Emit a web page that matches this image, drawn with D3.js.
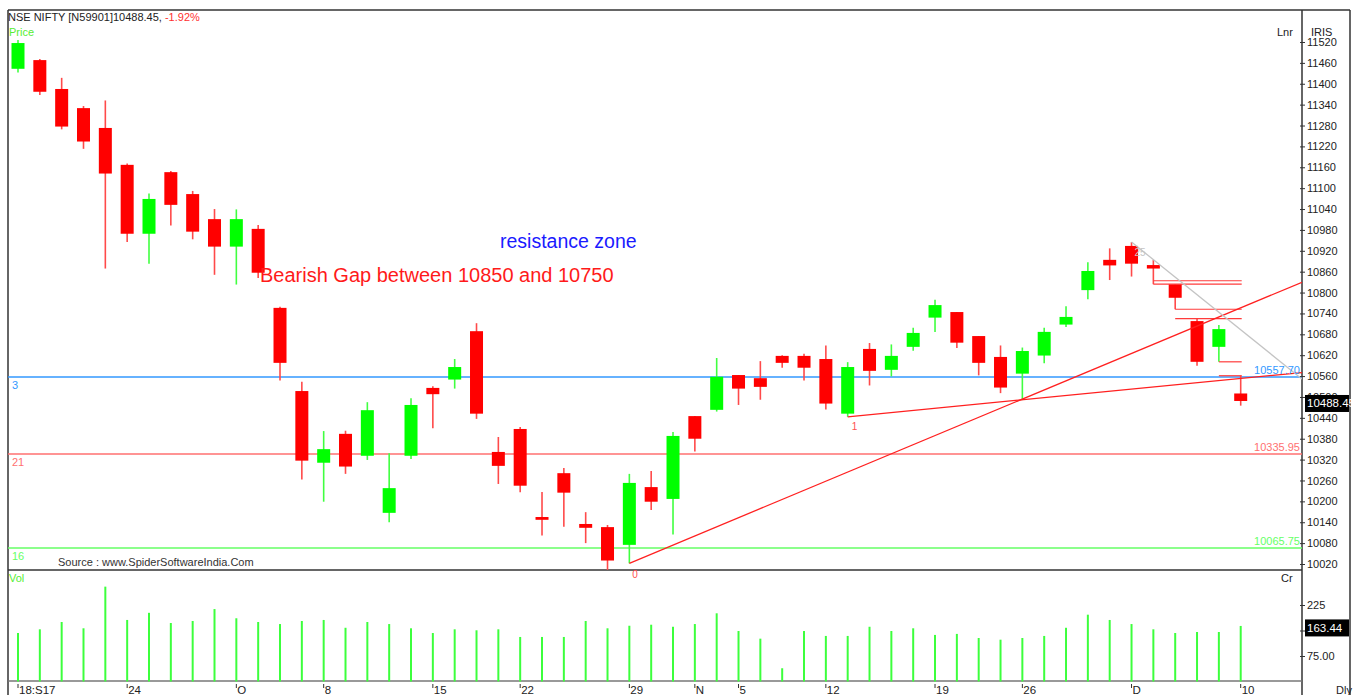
<!DOCTYPE html>
<html>
<head>
<meta charset="utf-8">
<script src="https://cdn.jsdelivr.net/npm/d3@7"></script>
<style>
  body { margin: 0; background: #fff; }
  svg { display: block; font-family: "Liberation Sans", Arial, sans-serif; }
</style>
</head>
<body>
<div class="chart"></div>
<script>
const width = 1355
const height = 695

// daily candles, NSE NIFTY
const opens = [11443, 11468, 11385, 11330, 11273, 11167, 10969, 11146, 11083, 11011, 10932, 10983,
    10756, 10517, 10311, 10394, 10331, 10167, 10331, 10526, 10550, 10689, 10342, 10408, 10155, 10281,
    10135, 10126, 10075, 10241, 10207, 10445, 10463, 10563, 10554, 10618, 10618, 10609, 10452, 10638,
    10578, 10644, 10728, 10744, 10675, 10615, 10567, 10619, 10708, 10807, 10894, 10934, 10879, 10824,
    10718, 10644, 10510]
const highs = [11526, 11471, 11417, 11336, 11352, 11171, 11085, 11149, 11092, 11040, 11039, 10994,
    10759, 10544, 10402, 10403, 10485, 10338, 10496, 10531, 10609, 10712, 10385, 10414, 10227, 10296,
    10169, 10132, 10279, 10287, 10399, 10445, 10612, 10563, 10603, 10620, 10624, 10648, 10600, 10655,
    10651, 10699, 10779, 10744, 10675, 10648, 10642, 10699, 10761, 10887, 10927, 10945, 10894, 10824,
    10725, 10707, 10562]
const lows = [11432, 11368, 11269, 11213, 10869, 10945, 10883, 10993, 10953, 10851, 10823, 10842,
    10547, 10263, 10199, 10279, 10319, 10140, 10322, 10410, 10524, 10437, 10250, 10226, 10102, 10127,
    10080, 10003, 10022, 10175, 10105, 10343, 10458, 10477, 10492, 10584, 10547, 10464, 10443, 10533,
    10559, 10633, 10687, 10641, 10562, 10511, 10491, 10597, 10701, 10781, 10836, 10846, 10824, 10752,
    10590, 10601, 10475]
const closes = [11517, 11377, 11277, 11234, 11142, 10969, 11069, 11052, 10975, 10932, 11011, 10857,
    10598, 10317, 10350, 10300, 10462, 10238, 10477, 10508, 10586, 10452, 10302, 10245, 10147, 10225,
    10124, 10030, 10253, 10199, 10388, 10380, 10558, 10524, 10529, 10598, 10584, 10481, 10586, 10575,
    10618, 10684, 10764, 10656, 10598, 10527, 10632, 10687, 10730, 10862, 10878, 10883, 10869, 10785,
    10601, 10695, 10488.45]
const volumes = [142.6, 153.5, 175, 156.5, 279, 181, 202, 172, 178, 213, 186, 175, 169, 178, 181,
    158, 175, 169, 156.5, 142.6, 153.5, 150.6, 153.5, 131, 131, 131, 178, 156.5, 164, 167, 161, 169,
    200.6, 148.5, 126, 39, 148.5, 134, 134, 161, 148.5, 156.5, 137, 140, 128, 123, 128, 134, 158,
    196.5, 181, 169, 153.5, 142.6, 145.6, 145.6, 163.44]

const dateLabels = [[0, "18:S17"], [5, "24"], [10, "O"], [14, "8"], [19, "15"], [23, "22"], [28, "29"],
    [31, "N"], [33, "5"], [37, "12"], [42, "19"], [46, "26"], [51, "D"], [56, "10"]]
const priceTicks = d3.range(10020, 11521, 60)
const volTicks = [75, 150, 225]
const volTickLabels = ["75.00", "", "225"]   // 150 sits under the last-value box

// horizontal levels: value, left tag
const levels = [
    { value: 10557.70, tag: "3", color: "#3399ff" },
    { value: 10335.95, tag: "21", color: "#ff7070" },
    { value: 10065.75, tag: "16", color: "#66ff66" }
]
// gap marks: from candle index, price
const gapLines = [[52, 10834], [52, 10824], [53, 10752], [53, 10725], [55, 10601], [55, 10561]]
// trend lines: two anchors [index, price], extended to the axis
const trendLines = [
    { a: [28, 10022], b: [56, 10756], color: "#ff2020", label: "0" },
    { a: [38, 10443], b: [56, 10553], color: "#ff2020", label: "1" },
    { a: [51, 10945], b: [56, 10693], color: "#c4c4c4", label: "25" }
]

const leftX = 8, axisX = 1302, rightX = 1350
const topY = 10, priceBottom = 570, volBottom = 681

const x = d3.scaleLinear().domain([0, 56]).range([18, 1240.7])
const y = d3.scaleLinear().domain([10020, 11520]).range([564, 42])
const yVol = d3.scaleLinear().domain([0, 225]).range([681.5, 605])

const svg = d3.select(".chart").append("svg")
    .attr("width", width)
    .attr("height", height)

svg.append("defs").append("clipPath").attr("id", "pclip")
    .append("rect").attr("x", leftX).attr("y", topY).attr("width", axisX - leftX).attr("height", priceBottom - topY)

// frame
const frame = svg.append("g").attr("stroke", "#333").attr("fill", "none")
frame.append("line").attr("x1", leftX).attr("x2", rightX).attr("y1", topY).attr("y2", topY).attr("stroke-width", 1.5)
frame.append("line").attr("x1", leftX).attr("x2", leftX).attr("y1", topY).attr("y2", height).attr("stroke-width", 1.5)
frame.append("line").attr("x1", axisX).attr("x2", axisX).attr("y1", topY).attr("y2", height).attr("stroke-width", 1.5)
frame.append("line").attr("x1", rightX).attr("x2", rightX).attr("y1", topY).attr("y2", height).attr("stroke-width", 1.5)
frame.append("line").attr("x1", leftX).attr("x2", axisX).attr("y1", priceBottom).attr("y2", priceBottom).attr("stroke-width", 1.5)
frame.append("line").attr("x1", leftX).attr("x2", axisX).attr("y1", volBottom).attr("y2", volBottom).attr("stroke", "#777").attr("stroke-width", 1.5)

const plot = svg.append("g").attr("clip-path", "url(#pclip)")

// level lines
plot.selectAll(".level")
    .data(levels)
    .join("line")
    .attr("x1", leftX).attr("x2", axisX)
    .attr("y1", d => y(d.value)).attr("y2", d => y(d.value))
    .attr("stroke", d => d.color)
    .attr("stroke-width", 1.5)

svg.selectAll(".levelTag")
    .data(levels)
    .join("text")
    .attr("x", 12)
    .attr("y", d => y(d.value) + 12)
    .attr("fill", d => d.color)
    .attr("font-size", 11)
    .text(d => d.tag)

svg.selectAll(".levelVal")
    .data(levels)
    .join("text")
    .attr("x", 1300)
    .attr("y", d => y(d.value) - 3)
    .attr("text-anchor", "end")
    .attr("fill", d => d.color)
    .attr("font-size", 11)
    .text(d => d.value.toFixed(2))

// candles
const candles = closes.map((c, i) => ({ i, o: opens[i], h: highs[i], l: lows[i], c }))

plot.selectAll(".wick")
    .data(candles)
    .join("line")
    .attr("x1", d => x(d.i)).attr("x2", d => x(d.i))
    .attr("y1", d => y(d.h)).attr("y2", d => y(d.l))
    .attr("stroke", d => d.c >= d.o ? "#40ff40" : "#ff4a4a")
    .attr("stroke-width", 1.6)

plot.selectAll(".body")
    .data(candles)
    .join("rect")
    .attr("x", d => x(d.i) - 6.5)
    .attr("width", 13)
    .attr("y", d => y(Math.max(d.o, d.c)))
    .attr("height", d => Math.max(2, Math.abs(y(d.o) - y(d.c))))
    .attr("fill", d => d.c >= d.o ? "#00ff00" : "#ff0000")

// gap marks
plot.selectAll(".gap")
    .data(gapLines)
    .join("line")
    .attr("x1", d => x(d[0])).attr("x2", x(56) + 1)
    .attr("y1", d => y(d[1])).attr("y2", d => y(d[1]))
    .attr("stroke", "#ff3b3b")
    .attr("stroke-width", 1.2)

// trend lines
const xEnd = x.invert(axisX)
plot.selectAll(".trend")
    .data(trendLines)
    .join("line")
    .attr("x1", d => x(d.a[0])).attr("y1", d => y(d.a[1]))
    .attr("x2", axisX)
    .attr("y2", d => y(d.a[1] + (d.b[1] - d.a[1]) / (d.b[0] - d.a[0]) * (xEnd - d.a[0])))
    .attr("stroke", d => d.color)
    .attr("stroke-width", 1.3)

svg.append("text").attr("x", x(28) + 3).attr("y", 578).attr("fill", "#ff5050").attr("font-size", 10).text(trendLines[0].label)
svg.append("text").attr("x", x(38) + 4).attr("y", y(10443) + 13).attr("fill", "#ff5050").attr("font-size", 10).text(trendLines[1].label)
svg.append("text").attr("x", x(51) + 3).attr("y", y(10945) + 14).attr("fill", "#c4c4c4").attr("font-size", 10).text(trendLines[2].label)

// annotations
svg.append("text").attr("x", 500).attr("y", 248).attr("fill", "#1a1aff").attr("font-size", 19.5).text("resistance zone")
svg.append("text").attr("x", 260).attr("y", 282).attr("fill", "#ff1a1a").attr("font-size", 20).text("Bearish Gap between 10850 and 10750")

// volume
svg.selectAll(".vol")
    .data(volumes)
    .join("line")
    .attr("x1", (d, i) => x(i)).attr("x2", (d, i) => x(i))
    .attr("y1", yVol(0)).attr("y2", d => yVol(d))
    .attr("stroke", "#3cff3c")
    .attr("stroke-width", 2)

// price axis
const yAxis = svg.append("g")
    .attr("transform", `translate(${axisX - 2},0)`)
    .call(d3.axisRight(y).tickValues(priceTicks).tickSize(5).tickPadding(2).tickFormat(d3.format("d")))
yAxis.select(".domain").remove()
yAxis.selectAll("text").attr("font-size", 11).attr("fill", "#222").attr("font-family", "Liberation Sans, Arial, sans-serif")
yAxis.selectAll("line").attr("stroke", "#333")

const vAxis = svg.append("g")
    .attr("transform", `translate(${axisX - 2},0)`)
    .call(d3.axisRight(yVol).tickValues(volTicks).tickSize(5).tickPadding(2).tickFormat((d, i) => volTickLabels[i]))
vAxis.select(".domain").remove()
vAxis.selectAll("text").attr("font-size", 11).attr("fill", "#222").attr("font-family", "Liberation Sans, Arial, sans-serif")
vAxis.selectAll("line").attr("stroke", "#333")

// last value boxes
const lastBox = (val, text) => {
    svg.append("rect").attr("x", 1305).attr("y", val - 8.5).attr("width", 44).attr("height", 17).attr("fill", "#000")
    svg.append("text").attr("x", 1307).attr("y", val + 4).attr("fill", "#fff").attr("font-size", 11.5).text(text)
}
lastBox(y(closes[56]) + 2.5, "10488.45")
lastBox(yVol(volumes[56]) + 2, volumes[56].toFixed(2))

// date axis
const dates = svg.append("g")
dates.selectAll("line")
    .data(dateLabels)
    .join("line")
    .attr("x1", d => x(d[0])).attr("x2", d => x(d[0]))
    .attr("y1", 684).attr("y2", 688)
    .attr("stroke", "#333")
dates.selectAll("text")
    .data(dateLabels)
    .join("text")
    .attr("x", d => x(d[0]) + 1)
    .attr("y", 694)
    .attr("font-size", 11.5)
    .attr("fill", "#222")
    .text(d => d[1])

// header and panel labels
const header = svg.append("text").attr("x", 8).attr("y", 21).attr("font-size", 11).attr("fill", "#222")
header.append("tspan").text("NSE NIFTY [N59901]10488.45,  ")
header.append("tspan").attr("fill", "#ff3030").text("-1.92%")
svg.append("text").attr("x", 9).attr("y", 36).attr("font-size", 11).attr("fill", "#55ee33").text("Price")
svg.append("text").attr("x", 1277).attr("y", 36).attr("font-size", 11).attr("fill", "#222").text("Lnr")
svg.append("text").attr("x", 1311).attr("y", 36).attr("font-size", 11).attr("fill", "#222").text("IRIS")
svg.append("text").attr("x", 9).attr("y", 582).attr("font-size", 11).attr("fill", "#55ee33").text("Vol")
svg.append("text").attr("x", 1281).attr("y", 582).attr("font-size", 11).attr("fill", "#222").text("Cr")
svg.append("text").attr("x", 1336).attr("y", 694).attr("font-size", 11).attr("fill", "#222").text("Dly")
svg.append("text").attr("x", 58).attr("y", 566).attr("font-size", 11).attr("fill", "#333").text("Source : www.SpiderSoftwareIndia.Com")
</script>
</body>
</html>
